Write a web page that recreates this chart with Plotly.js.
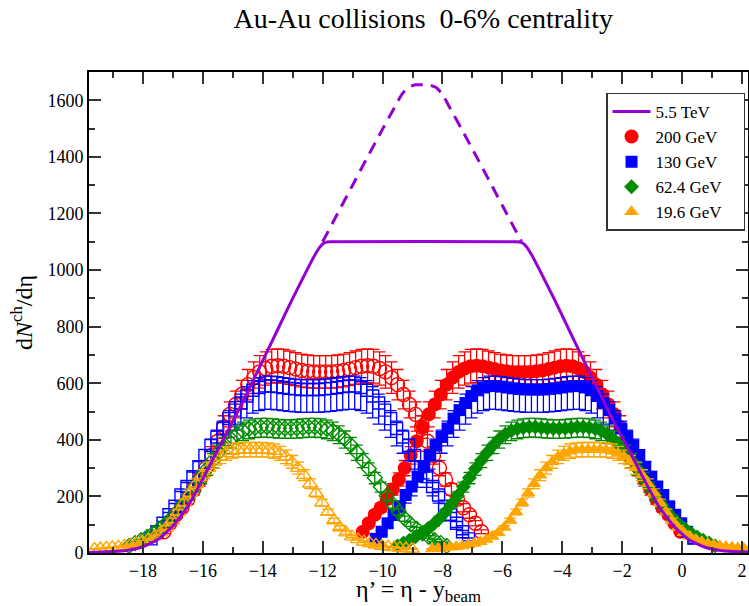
<!DOCTYPE html>
<html>
<head>
<meta charset="utf-8">
<script src="https://cdn.plot.ly/plotly-3.0.1.min.js"></script>
<style>
html,body{margin:0;padding:0;background:#fff;}
#chart{width:749px;height:606px;}
</style>
</head>
<body>
<div id="chart"></div>
<script>
// pseudorapidity bins (PHOBOS-style)
const eta = [-5.3,-5.1,-4.9,-4.7,-4.5,-4.3,-4.1,-3.9,-3.7,-3.5,-3.3,-3.1,-2.9,-2.7,-2.5,-2.3,-2.1,-1.9,-1.7,-1.5,-1.3,-1.1,-0.9,-0.7,-0.5,-0.3,-0.1,
             0.1,0.3,0.5,0.7,0.9,1.1,1.3,1.5,1.7,1.9,2.1,2.3,2.5,2.7,2.9,3.1,3.3,3.5,3.7,3.9,4.1,4.3,4.5,4.7,4.9,5.1,5.3];

// beam rapidities
const ybeam200 = 5.36, ybeam130 = 4.93, ybeam62 = 4.20, ybeam19 = 3.04, ybeamLHC = 8.68;

// dN/deta, 0-6% central Au-Au
const dn200 = [75,105,135,160,190,225,260,300,345,395,445,490,525,560,595,620,640,652,660,662,660,655,650,645,642,640,640,
               640,640,642,645,650,655,660,662,660,652,640,620,595,560,525,490,445,395,345,300,260,225,190,160,135,105,75];
const dn130 = [50,75,105,135,165,205,235,270,305,345,380,410,440,475,505,530,555,575,585,590,590,588,585,582,580,578,578,
               578,578,580,582,585,588,590,590,585,575,555,530,505,475,440,410,380,345,305,270,235,205,165,135,105,75,50];
const dn62 = [25,35,45,57,70,85,102,122,145,172,202,234,266,298,328,356,382,403,420,432,439,443,445,445,443,441,440,
              440,441,443,445,445,443,439,432,420,403,382,356,328,298,266,234,202,172,145,122,102,85,70,57,45,35,25];
const dn19 = [14,16,18,20,22,25,29,34,40,48,58,72,90,115,145,178,212,245,275,300,322,340,352,360,364,365,365,
              365,365,364,360,352,340,322,300,275,245,212,178,145,115,90,72,58,48,40,34,29,25,22,20,18,16,14];

// relative systematic errors (percent, up / down)
const err200 = [9, 9], err130 = [6, 14], err62 = [7, 8], err19 = [7, 7];

// 5.5 TeV extrapolation
const lhcX = [-19.8,-19,-18.5,-18,-17.5,-17,-16.5,-16,-15.5,-15,-14.5,-14,-13.5,-13,-12.5,-12.25,-12.1,-12.0,-11.9,-11.75,
              -5.53,-5.38,-5.28,-5.18,-5.03,-4.78,-4.28,-3.78,-3.28,-2.78,-2.28,-1.78,-1.28,-0.78,-0.28,0.22,0.72,1.22,1.72,2.52];
const lhcY = [2,5,10,22,48,95,165,262,365,465,570,680,790,900,1005,1055,1080,1092,1098,1100,
              1100,1098,1092,1080,1055,1005,900,790,680,570,465,365,262,165,95,48,22,10,5,2];
const lhcDashX = [-12.0,-11.5,-11.0,-10.5,-10.0,-9.6,-9.35,-9.15,-8.9,-8.68,-8.46,-8.21,-8.01,-7.76,-7.36,-6.86,-6.36,-5.86,-5.36];
const lhcDashY = [1100,1200,1300,1400,1498,1575,1622,1645,1655,1655,1655,1645,1622,1575,1498,1400,1300,1200,1100];

const labels = ['5.5 TeV','200 GeV','130 GeV','62.4 GeV','19.6 GeV'];

const C = {red:'#ff0000', blue:'#0000ff', green:'#008b00', orange:'#ffa500', violet:'#9400d3'};
const pad = '\u00a0\u00a0\u00a0\u00a0';

function shifted(yb){ return eta.map(e => e - yb); }
function mirrored(yb){ return eta.map(e => -2*ybeamLHC - (e - yb)); }

function dataTraces(name, vals, yb, col, sym, size, err, rank){
  const ey = {type:'percent', symmetric:false, value:err[0], valueminus:err[1], color:col, thickness:1.3, width:6};
  return [
    {x: mirrored(yb), y: vals, mode:'markers', type:'scatter', showlegend:false, hoverinfo:'skip',
     marker:{symbol: sym+'-open', size:size, color:col, line:{color:col, width:1.4}}, error_y: ey},
    {x: shifted(yb), y: vals, mode:'markers', type:'scatter', name:name + pad, legendrank:rank,
     marker:{symbol: sym, size:size, color:col, line:{width:0}}, error_y: ey}
  ];
}

const traces = [].concat(
  dataTraces(labels[1], dn200, ybeam200, C.red, 'circle', 14, err200, 2),
  dataTraces(labels[2], dn130, ybeam130, C.blue, 'square', 12, err130, 3),
  dataTraces(labels[3], dn62, ybeam62, C.green, 'diamond', 11.5, err62, 4),
  dataTraces(labels[4], dn19, ybeam19, C.orange, 'triangle-up', 13, err19, 5),
  [
    {x: lhcDashX, y: lhcDashY, mode:'lines', type:'scatter', showlegend:false,
     line:{color:C.violet, width:3, dash:'12px,8px', shape:'spline', smoothing:0.6}},
    {x: lhcX, y: lhcY, mode:'lines', type:'scatter', name:labels[0] + pad, legendrank:1,
     line:{color:C.violet, width:3, shape:'spline', smoothing:0.4}}
  ]
);

const serif = 'Liberation Serif';
const axisCommon = {
  showline:true, linecolor:'#000', linewidth:2, mirror:'allticks',
  ticks:'inside', ticklen:12, tickwidth:1.5, tickcolor:'#333',
  showgrid:false, zeroline:false,
  tickfont:{family:serif, size:18, color:'#000'}
};

const layout = {
  width:749, height:606,
  margin:{l:89, r:1, t:72, b:53},
  paper_bgcolor:'#fff', plot_bgcolor:'#fff',
  font:{family:serif, color:'#000', size:18},
  title:{text:'Au-Au collisions\u00a0\u00a00-6% centrality', font:{family:serif, size:28, color:'#000'},
         xref:'container', x:0.565, xanchor:'center', yref:'container', y:0.97, yanchor:'middle'},
  xaxis: Object.assign({}, axisCommon, {
    range:[-19.8, 2.2], dtick:2, tick0:0,
    minor:{dtick:1, ticks:'inside', ticklen:6, tickwidth:1.5, tickcolor:'#333'},
    title:{text:'η’ = η - y<sub>beam</sub>', font:{family:serif, size:24, color:'#000'}, standoff:4}
  }),
  yaxis: Object.assign({}, axisCommon, {
    range:[0, 1700], dtick:200, tick0:0,
    minor:{dtick:100, ticks:'inside', ticklen:6, tickwidth:1.5, tickcolor:'#333'},
    title:{text:'d<i>N</i><sup>ch</sup>/dη', font:{family:serif, size:24, color:'#000'}, standoff:8}
  }),
  legend:{x:0.785, y:0.957, xanchor:'left', yanchor:'top', bgcolor:'#fff',
          bordercolor:'#333', borderwidth:1.2, font:{family:serif, size:17, color:'#000'},
          tracegroupgap:0, itemwidth:38},
  showlegend:true
};

Plotly.newPlot('chart', traces, layout, {displayModeBar:false});
</script>
</body>
</html>
